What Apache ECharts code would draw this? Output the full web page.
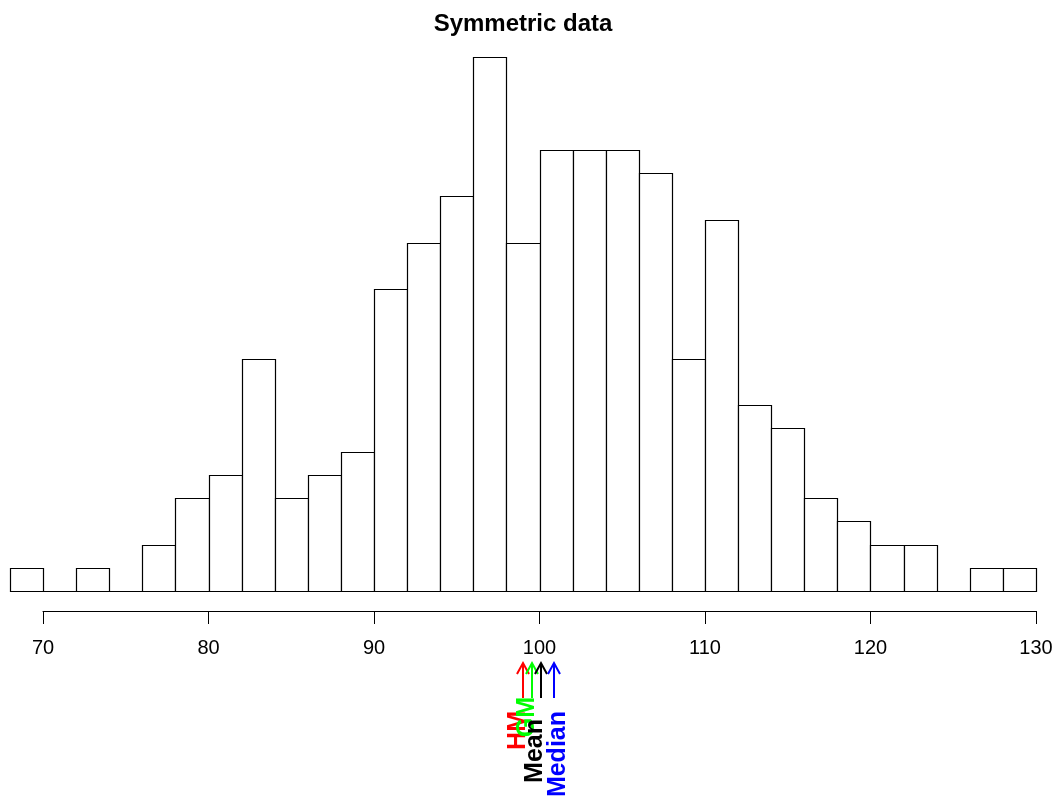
<!DOCTYPE html>
<html>
<head>
<meta charset="utf-8">
<script src="https://cdn.jsdelivr.net/npm/echarts@6/dist/echarts.min.js"></script>
<style>
  html, body { margin: 0; padding: 0; background: #fff; }
  #chart { width: 1057px; height: 799px; }
</style>
</head>
<body>
<div id="chart"></div>
<script>
// histogram bins (left edges, width 2) and counts
const binStarts = [68, 70, 72, 74, 76, 78, 80, 82, 84, 86, 88, 90, 92, 94, 96, 98,
  100, 102, 104, 106, 108, 110, 112, 114, 116, 118, 120, 122, 124, 126, 128];
const counts = [1, 0, 1, 0, 2, 4, 5, 10, 4, 5, 6, 13, 15, 17, 23, 15,
  19, 19, 19, 18, 10, 16, 8, 7, 4, 3, 2, 2, 0, 1, 1];
const binWidth = 2;

// arrow markers under the axis
const markNames = ['HM', 'GM', 'Mean', 'Median'];
const markValues = [98.99, 99.53, 100.07, 100.9];
const markColors = ['#ff0000', '#00ff00', '#000000', '#0000ff'];

// label placement (pixel nudges + top end of each rotated label)
const labelDx = [-5, -5, -6, 4];
const labelTop = [711, 697, 719, 711];

const chart = echarts.init(document.getElementById('chart'));

const histData = binStarts.map((s, i) => [s, s + binWidth, counts[i]]);

const option = {
  animation: false,
  backgroundColor: '#fff',
  title: {
    text: 'Symmetric data',
    left: 518, top: 7, textAlign: 'center',
    textStyle: { fontFamily: 'Liberation Sans', fontWeight: 'bold', fontSize: 24, color: '#000' }
  },
  grid: [
    { left: 9.9, right: 21, top: 57, bottom: 208 },
    { left: 43, right: 21, top: 560, bottom: 188 },
    { left: 9.9, right: 21, top: 663, bottom: 101 }
  ],
  xAxis: [
    { gridIndex: 0, type: 'value', min: 68, max: 130, show: false },
    {
      gridIndex: 1, type: 'value', min: 70, max: 130, interval: 10, position: 'bottom',
      axisLine: { show: true, lineStyle: { color: '#000', width: 1 } },
      axisTick: { show: true, length: 13, lineStyle: { color: '#000', width: 1 } },
      axisLabel: { color: '#000', fontSize: 20, fontFamily: 'Liberation Sans', margin: 27 },
      splitLine: { show: false }
    },
    { gridIndex: 2, type: 'value', min: 68, max: 130, show: false }
  ],
  yAxis: [
    { gridIndex: 0, type: 'value', min: 0, max: 23, show: false },
    { gridIndex: 1, type: 'value', min: 0, max: 1, show: false },
    { gridIndex: 2, type: 'value', min: 0, max: 1, show: false }
  ],
  series: [
    {
      type: 'custom',
      xAxisIndex: 0, yAxisIndex: 0,
      data: histData,
      renderItem: function (params, api) {
        const p0 = api.coord([api.value(0), api.value(2)]);
        const p1 = api.coord([api.value(1), 0]);
        const x0 = Math.round(p0[0]) + 0.5, x1 = Math.round(p1[0]) + 0.5;
        const y0 = Math.round(p0[1]) + 0.5, y1 = Math.round(p1[1]) + 0.5;
        return {
          type: 'rect',
          shape: { x: x0, y: y0, width: x1 - x0, height: y1 - y0 },
          style: { fill: '#fff', stroke: '#000', lineWidth: 1.2 }
        };
      }
    },
    {
      type: 'custom',
      xAxisIndex: 2, yAxisIndex: 2,
      clip: false,
      data: markValues.map((v, i) => [v, i]),
      renderItem: function (params, api) {
        const i = api.value(1);
        const top = api.coord([api.value(0), 1]);
        const bot = api.coord([api.value(0), 0]);
        const x = Math.round(top[0]);
        const c = markColors[i];
        return {
          type: 'group',
          children: [
            {
              type: 'line',
              shape: { x1: x, y1: bot[1], x2: x, y2: top[1] },
              style: { stroke: c, lineWidth: 2 }
            },
            {
              type: 'polyline',
              shape: { points: [[x - 6, top[1] + 11], [x, top[1]], [x + 6, top[1] + 11]] },
              style: { stroke: c, lineWidth: 2, fill: null }
            },
            {
              type: 'text',
              x: x + labelDx[i],
              y: labelTop[i],
              rotation: Math.PI / 2,
              style: {
                text: markNames[i],
                fill: c,
                font: 'bold 25px "Liberation Sans"',
                align: 'right',
                verticalAlign: 'middle'
              }
            }
          ]
        };
      }
    }
  ]
};

chart.setOption(option);
</script>
</body>
</html>
